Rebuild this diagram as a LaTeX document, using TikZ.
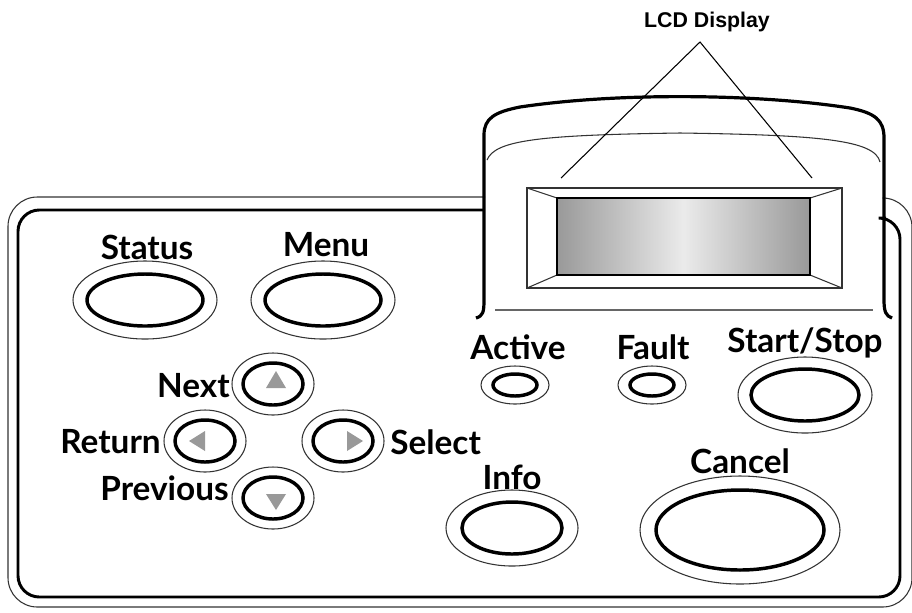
\documentclass[tikz,border=0pt]{standalone}
\usepackage{fontspec}
\setmainfont{Lato}
\newfontfamily\arialf{Liberation Sans}
\begin{document}
\begin{tikzpicture}[x=0.75pt,y=-0.75pt,
  lbl/.style={font=\fontsize{25}{25}\selectfont\bfseries, inner sep=0},
  thin/.style={line width=0.8pt, draw=black!80},
  thick/.style={line width=2.6pt},
  tri/.style={fill=black!40, draw=none}]
\useasboundingbox (0,0) rectangle (912,612);
% panel outlines
\draw[thin, rounded corners=22] (485,197) -- (8,197) -- (8,607) -- (912,607) -- (912,198) -- (885,198);
\draw[line width=2.2pt, rounded corners=16] (483,210) -- (18,210) -- (18,597) -- (900,597) -- (900,218) -- (886,218);
% LCD housing
\draw[line width=2.4pt] (476,318) .. controls (483,316) and (484,312) .. (484,300) -- (484,135) .. controls (484,118) and (495,112) .. (520,107) .. controls (620,92) and (760,94) .. (850,108) .. controls (875,113) and (884,120) .. (884,138) -- (884,300) .. controls (884,312) and (886,316) .. (892,318);
\draw[thin] (487,160) .. controls (495,140) and (540,135) .. (680,133) .. controls (820,135) and (875,140) .. (880,162);
\draw[thin, draw=black!60] (495,310) -- (873,310);
% bezel
\coordinate (bo1) at (527,188); \coordinate (bo2) at (842,188);
\coordinate (bo3) at (842,288); \coordinate (bo4) at (527,288);
\coordinate (bi1) at (557,198); \coordinate (bi2) at (810,198);
\coordinate (bi3) at (810,275); \coordinate (bi4) at (557,275);
\draw[thin] (bo1) -- (bo2) -- (bo3) -- (bo4) -- cycle;
\draw[thin] (bo1) -- (bi1) (bo2) -- (bi2) (bo3) -- (bi3) (bo4) -- (bi4);
\shade[left color=black!40, right color=black!40, middle color=black!8] (bi1) rectangle (bi3);
\draw[line width=2.2pt] (bi1) rectangle (bi3);
% LCD label
\node[font=\arialf\fontsize{16}{16}\selectfont\bfseries] (lcd) at (707,22) {LCD Display};
\coordinate (apex) at (700,42);
\coordinate (pl) at (561,178); \coordinate (pr) at (812,178);
\draw[line width=0.8pt] (pl) -- (apex) -- (pr);
% buttons
\newcommand\btn[7]{%
  \draw[thin] (#1,#2) ellipse [x radius=#3, y radius=#4];
  \draw[thick] (#1,#2) ellipse [x radius=#5, y radius=#6];
  \node[inner sep=0, minimum size=0] (#7) at (#1,#2) {};}
\btn{145}{300}{72}{39}{58}{26}{status}
\btn{323}{300}{72}{39}{58}{26}{menu}
\btn{273}{384}{41}{31}{30}{21}{next}
\btn{205}{441}{41}{31}{30}{21}{return}
\btn{343}{441}{41}{31}{30}{21}{select}
\btn{273}{498}{41}{31}{30}{21}{prev}
\btn{515}{385}{34}{19}{22}{11}{active}
\btn{652}{385}{34}{19}{22}{11}{fault}
\btn{805}{395}{67}{38}{54}{26}{start}
\btn{512}{528}{66}{38}{50}{26}{info}
\btn{740}{530}{100}{54}{84}{40}{cancel}
% triangles
\fill[tri] (276,371) -- (266,388) -- (286,388) -- cycle;
\fill[tri] (276,510) -- (266,494) -- (286,494) -- cycle;
\fill[tri] (189,441) -- (205,431) -- (205,451) -- cycle;
\fill[tri] (363,441) -- (347,431) -- (347,451) -- cycle;
% labels
\node[lbl] (lstatus) at (147,247) {Status};
\node[lbl] (lmenu) at (326,245) {Menu};
\node[lbl,anchor=east] (lnext) at (230,386) {Next};
\node[lbl,anchor=east] (lreturn) at (161,442) {Return};
\node[lbl,anchor=west] (lselect) at (390,442) {Select};
\node[lbl,anchor=east] (lprev) at (229,488) {Previous};
\node[lbl] (lactive) at (518,347) {Active};
\node[lbl] (lfault) at (653,347) {Fault};
\node[lbl] (lstart) at (805,343) {Start/Stop};
\node[lbl] (linfo) at (512,477) {Info};
\node[lbl] (lcancel) at (740,461) {Cancel};
\end{tikzpicture}
\end{document}
